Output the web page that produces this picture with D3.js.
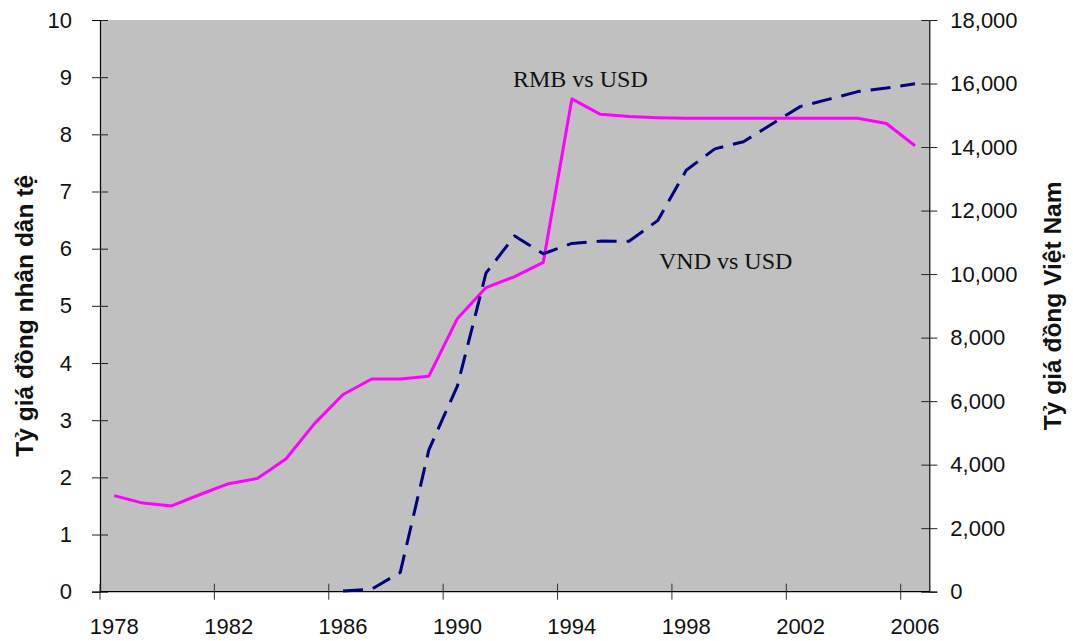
<!DOCTYPE html>
<html>
<head>
<meta charset="utf-8">
<script src="https://cdn.jsdelivr.net/npm/d3@7"></script>
<style>
  html, body { margin: 0; padding: 0; background: #fff; }
  svg { display: block; }
</style>
</head>
<body>
<svg id="chart" width="1073" height="641"></svg>
<script>
// Years on the category axis
const years = d3.range(1978, 2007);
// Labelled years (every fourth category)
const tickYears = [1978, 1982, 1986, 1990, 1994, 1998, 2002, 2006];
// Yuan per US dollar, 1978–2006
const rmbValues = [1.68, 1.55, 1.50, 1.70, 1.89, 1.98, 2.32, 2.94, 3.45, 3.72,
                   3.72, 3.77, 4.78, 5.32, 5.51, 5.76, 8.62, 8.35, 8.31, 8.29,
                   8.28, 8.28, 8.28, 8.28, 8.28, 8.28, 8.28, 8.19, 7.80];
// Dong per US dollar, 1986–2006
const vndYears = d3.range(1986, 2007);
const vndValues = [23, 78, 607, 4464, 6483, 10037, 11202, 10641, 10966, 11038,
                   11033, 11683, 13268, 13943, 14168, 14725, 15280, 15510, 15746,
                   15859, 15994];
const leftTicks = [0, 1, 2, 3, 4, 5, 6, 7, 8, 9, 10];
const rightTicks = [0, 2000, 4000, 6000, 8000, 10000, 12000, 14000, 16000, 18000];

const svg = d3.select("#chart");
const plot = { left: 100, right: 929.3, top: 20, bottom: 591.7 };

const x = d3.scaleBand().domain(years).range([plot.left, plot.right]).padding(0);
const bw = x.bandwidth();
const cx = yr => x(yr) + bw / 2;
const yL = d3.scaleLinear().domain([0, 10]).range([plot.bottom, plot.top]);
const yR = d3.scaleLinear().domain([0, 18000]).range([plot.bottom, plot.top]);

const tickFont = "'Liberation Sans', Arial, sans-serif";

// Plot area
svg.append("rect")
  .attr("x", plot.left).attr("y", plot.top)
  .attr("width", plot.right - plot.left).attr("height", plot.bottom - plot.top)
  .attr("fill", "#c0c0c0");

// Left axis
const gL = svg.append("g").attr("transform", `translate(${plot.left},0)`)
  .call(d3.axisLeft(yL).tickValues(leftTicks).tickSize(8).tickPadding(20).tickFormat(d3.format("d")));
gL.select(".domain").attr("stroke", "#000").attr("stroke-width", 1.2);
gL.selectAll(".tick line").attr("x1", 8).attr("x2", -8).attr("stroke", "#222");
gL.selectAll(".tick text").attr("font-family", tickFont).attr("font-size", 22).attr("fill", "#111")
  .attr("x", -28);

// Right axis
const gR = svg.append("g").attr("transform", `translate(${plot.right},0)`)
  .call(d3.axisRight(yR).tickValues(rightTicks).tickSize(8).tickFormat(d3.format(",")));
gR.select(".domain").attr("stroke", "#000").attr("stroke-width", 1.2);
gR.selectAll(".tick line").attr("x1", -8).attr("x2", 8).attr("stroke", "#222");
gR.selectAll(".tick text").attr("font-family", tickFont).attr("font-size", 22).attr("fill", "#111")
  .attr("x", 21);

// Bottom category axis: ticks at category boundaries, labels at centres
const gB = svg.append("g").attr("transform", `translate(0,${plot.bottom})`)
  .call(d3.axisBottom(x).tickValues(tickYears).tickSize(8));
gB.select(".domain").attr("d", `M${plot.left},0H${plot.right}`).attr("stroke", "#000").attr("stroke-width", 1.2);
gB.selectAll(".tick line").attr("x1", -bw / 2).attr("x2", -bw / 2).attr("y1", -8).attr("y2", 8)
  .attr("stroke", "#333");
gB.selectAll(".tick text").attr("font-family", tickFont).attr("font-size", 22).attr("fill", "#111")
  .attr("y", 27);
gL.selectAll("path.domain, .tick line").raise();

// Series lines
const rmbLine = d3.line().x((d, i) => cx(years[i])).y(d => yL(d));
svg.append("path").datum(rmbValues)
  .attr("d", rmbLine).attr("fill", "none")
  .attr("stroke", "#ff00ff").attr("stroke-width", 3).attr("stroke-linejoin", "round");

const vndLine = d3.line().x((d, i) => cx(vndYears[i])).y(d => yR(d));
svg.append("path").datum(vndValues)
  .attr("d", vndLine).attr("fill", "none")
  .attr("stroke", "#000080").attr("stroke-width", 3)
  .attr("stroke-dasharray", "20,10").attr("stroke-linejoin", "round");

// Series labels
const serif = "'Liberation Serif', 'Times New Roman', serif";
svg.append("text").attr("x", 513).attr("y", 87)
  .attr("font-family", serif).attr("font-size", 24).attr("fill", "#111")
  .text("RMB vs USD");
svg.append("text").attr("x", 659).attr("y", 269)
  .attr("font-family", serif).attr("font-size", 24).attr("fill", "#111")
  .text("VND vs USD");

// Axis titles
const midY = (plot.top + plot.bottom) / 2;
svg.append("text")
  .attr("transform", `translate(33,${midY + 10}) rotate(-90)`)
  .attr("text-anchor", "middle")
  .attr("font-family", tickFont).attr("font-weight", "bold").attr("font-size", 24.5).attr("fill", "#111")
  .text("Tỷ giá đồng nhân dân tệ");
svg.append("text")
  .attr("transform", `translate(1061,${midY}) rotate(-90)`)
  .attr("text-anchor", "middle")
  .attr("font-family", tickFont).attr("font-weight", "bold").attr("font-size", 24.5).attr("fill", "#111")
  .text("Tỷ giá đồng Việt Nam");
</script>
</body>
</html>
